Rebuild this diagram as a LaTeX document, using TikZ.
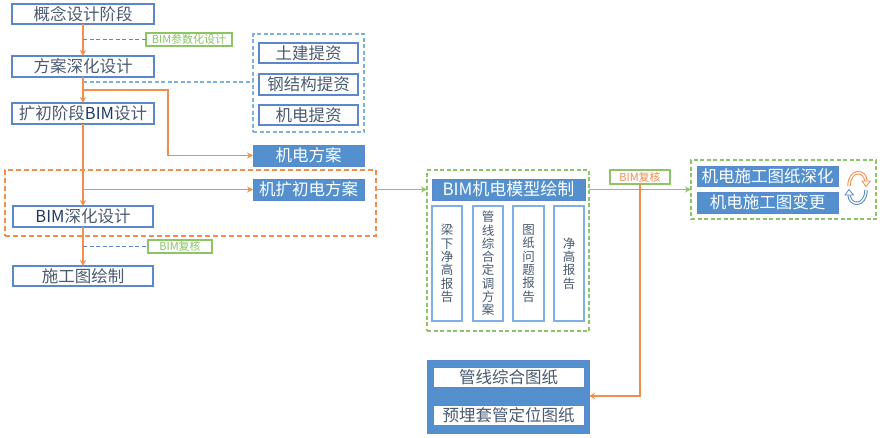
\documentclass[tikz,border=0pt]{standalone}
\usepackage{fontspec}
\usetikzlibrary{arrows.meta}
\newfontfamily\cjk{Noto Sans CJK SC}
\definecolor{bl}{HTML}{5B87CC}
\definecolor{lb}{HTML}{7DB1E6}
\definecolor{fillb}{HTML}{548FCE}
\definecolor{org}{HTML}{F48E4E}
\definecolor{grn}{HTML}{8CC466}
\definecolor{txt}{HTML}{4A5A70}
\definecolor{dkb}{HTML}{1F3864}
\tikzset{
 base/.style={inner sep=0pt,outer sep=0pt,align=center,font=\cjk},
 stage/.style={base,draw=bl,line width=1.3pt,text=txt,font=\cjk\fontsize{16.5}{17}\selectfont},
 filled/.style={base,draw=bl,fill=fillb,line width=.8pt,text=white,font=\cjk\fontsize{16.5}{17}\selectfont},
 vbox/.style={base,draw=lb,line width=1.2pt,fill=white,text=txt,font=\cjk\fontsize{12.5}{13.3}\selectfont},
 tagbox/.style={base,draw=grn,line width=1.2pt,fill=white,text=grn,font=\cjk\fontsize{11}{12}\selectfont},
 gdash/.style={draw=grn,line width=1.3pt,dash pattern=on 4pt off 2.5pt},
 odash/.style={draw=org,line width=1.3pt,dash pattern=on 5pt off 3pt},
 bdash/.style={draw=lb,line width=1.3pt,dash pattern=on 4pt off 2.5pt},
 flow/.style={draw=org,line width=1.4pt,-{Stealth[length=6pt,width=6pt]}},
 gflow/.style={draw=grn,line width=1.2pt,-{Stealth[length=6pt,width=6pt]}},
 note/.style={draw=bl,line width=1.1pt,dash pattern=on 4pt off 2.5pt},
}
\begin{document}
\begin{tikzpicture}[x=1pt,y=-1pt]
\useasboundingbox (0,0) rectangle (880,437);
% dashed groups
\node[base,bdash,minimum width=111pt,minimum height=98pt,anchor=north west] (gb) at (253,34) {};
\node[base,odash,minimum width=371pt,minimum height=66pt,anchor=north west] (go) at (5,170) {};
\node[base,gdash,minimum width=162pt,minimum height=161pt,anchor=north west] (gm) at (427,170) {};
\node[base,gdash,minimum width=185pt,minimum height=59pt,anchor=north west] (gr) at (691,160) {};
% left column
\node[stage,minimum width=142pt,minimum height=20pt,anchor=north west] (a) at (12,4) {概念设计阶段};
\node[stage,minimum width=142pt,minimum height=21pt,anchor=north west] (b) at (12,56) {方案深化设计};
\node[stage,minimum width=142pt,minimum height=21pt,anchor=north west] (c) at (12,103) {扩初阶段{\color{dkb}BIM}设计};
\node[stage,minimum width=140pt,minimum height=21pt,anchor=north west] (d) at (13,206) {{\color{dkb}BIM}深化设计};
\node[stage,minimum width=140pt,minimum height=20pt,anchor=north west] (e) at (13,266) {施工图绘制};
% provided info
\node[stage,minimum width=99pt,minimum height=20pt,anchor=north west] (t1) at (259,43) {土建提资};
\node[stage,minimum width=99pt,minimum height=21pt,anchor=north west] (t2) at (259,74) {钢结构提资};
\node[stage,minimum width=99pt,minimum height=20pt,anchor=north west] (t3) at (259,105) {机电提资};
\node[filled,minimum width=111pt,minimum height=21pt,anchor=north west] (p1) at (253,145) {机电方案};
\node[filled,minimum width=111pt,minimum height=21pt,anchor=north west] (p2) at (253,179) {机扩初电方案};
% tags
\node[tagbox,minimum width=86pt,minimum height=13pt,anchor=north west] (tg1) at (146,33) {BIM参数化设计};
\node[tagbox,minimum width=64pt,minimum height=13pt,anchor=north west] (tg2) at (148,240) {BIM复核};
\node[tagbox,text=org,minimum width=60pt,minimum height=14pt,anchor=north west] (tg3) at (610,170) {BIM复核};
% model group
\node[filled,minimum width=153pt,minimum height=21pt,anchor=north west,font=\cjk\fontsize{17}{18}\selectfont] (m) at (432,179) {BIM机电模型绘制};
\node[vbox,minimum width=30pt,minimum height=115pt,anchor=north west] (v1) at (432,206) {梁\\下\\净\\高\\报\\告};
\node[vbox,minimum width=30pt,minimum height=115pt,anchor=north west] (v2) at (473,206) {管\\线\\综\\合\\定\\调\\方\\案};
\node[vbox,minimum width=31pt,minimum height=115pt,anchor=north west] (v3) at (513,206) {图\\纸\\问\\题\\报\\告};
\node[vbox,minimum width=30pt,minimum height=115pt,anchor=north west] (v4) at (554,206) {净\\高\\报\\告};
% right
\node[filled,minimum width=141pt,minimum height=20pt,anchor=north west] (r1) at (697,166) {机电施工图纸深化};
\node[filled,minimum width=141pt,minimum height=21pt,anchor=north west] (r2) at (697,192) {机电施工图变更};
% bottom
\node[base,draw=bl,fill=fillb,line width=.8pt,minimum width=162pt,minimum height=73pt,anchor=north west] (bb) at (427,360) {};
\node[stage,fill=white,line width=.9pt,minimum width=151pt,minimum height=20pt,anchor=north west] (w1) at (433,367) {管线综合图纸};
\node[stage,fill=white,line width=.9pt,minimum width=151pt,minimum height=20pt,anchor=north west] (w2) at (433,405) {预埋套管定位图纸};
% flow
\draw[flow] (a.south) -- (b.north);
\draw[flow] (b.south) -- (c.north);
\draw[flow] (c.south) -- (d.north);
\draw[flow] (d.south) -- (e.north);
\coordinate (j1) at (83,90);
\coordinate (j2) at (83,189.5);
\coordinate (n1) at (83,39.5);
\coordinate (n2) at (83,82);
\coordinate (n3) at (83,246.5);
\coordinate (k1) at (253,82);
\coordinate (o1) at (640,396);
\draw[flow] (j1) -- (168,90) -- (168,155.5) -- (p1.west);
\draw[flow] (j2) -- (p2.west);
\draw[note] (n1) -- (tg1.west);
\draw[note,draw=lb] (n2) -- (k1);
\draw[note] (n3) -- (tg2.west);
\draw[gflow] (go.east |- m.west) -- (gm.west |- m.west);
\draw[gflow] (gm.east |- m.west) -- (gr.west |- m.west);
\draw[flow] (tg3.south) -- (o1) -- (bb.east |- o1);
% cycle arrows
\draw[draw=org,line width=3.4pt] (849,186) .. controls (849,169) and (866,169) .. (866,182);
\draw[draw=white,line width=1.4pt] (849,186) .. controls (849,169) and (866,169) .. (866,182);
\draw[draw=org,fill=white,line width=.8pt] (862,181) -- (870.5,181) -- (866,186.5) -- cycle;
\draw[draw=bl,line width=3.4pt] (866,190) .. controls (866,207) and (849,207) .. (849,194);
\draw[draw=white,line width=1.4pt] (866,190) .. controls (866,207) and (849,207) .. (849,194);
\draw[draw=bl,fill=white,line width=.8pt] (845,195) -- (853.5,195) -- (849,189.5) -- cycle;
\end{tikzpicture}
\end{document}
